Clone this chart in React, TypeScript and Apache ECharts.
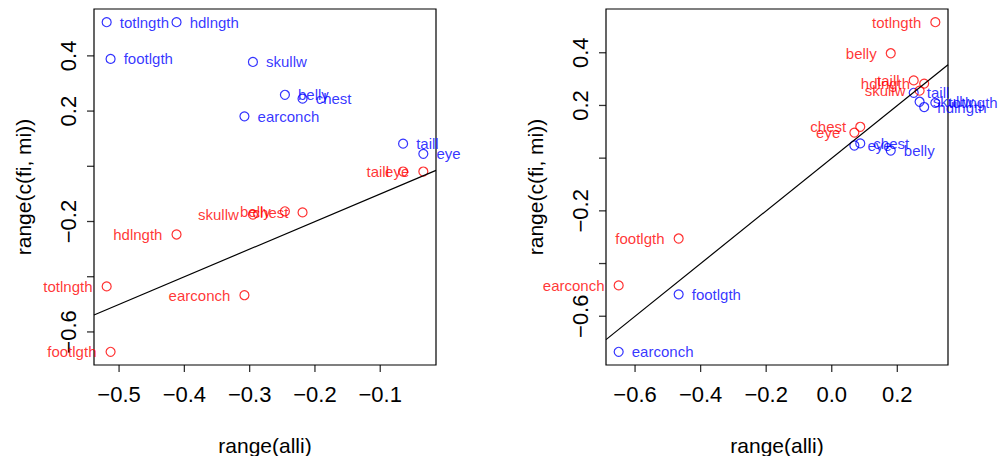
import React, { useEffect, useRef } from "react";
import * as echarts from "echarts";

const variables = ["totlngth", "hdlngth", "footlgth", "skullw", "belly", "chest", "earconch", "taill", "eye"];

// left panel
const alliLeft = [-0.519, -0.412, -0.513, -0.295, -0.246, -0.219, -0.308, -0.065, -0.034];
const blueLeft = [0.522, 0.522, 0.389, 0.378, 0.259, 0.245, 0.181, 0.082, 0.045];
const redLeft = [-0.435, -0.247, -0.672, -0.175, -0.163, -0.167, -0.467, -0.019, -0.019];

// right panel
const alliRight = [0.316, 0.282, -0.467, 0.268, 0.18, 0.087, -0.65, 0.25, 0.069];
const blueRight = [0.21, 0.194, -0.517, 0.214, 0.029, 0.056, -0.735, 0.248, 0.048];
const redRight = [0.516, 0.283, -0.305, 0.256, 0.398, 0.119, -0.483, 0.295, 0.097];

const xTicksLeft = [-0.5, -0.4, -0.3, -0.2, -0.1];
const xTicksRight = [-0.6, -0.4, -0.2, 0, 0.2];
const yTicks = [-0.6, -0.4, -0.2, 0, 0.2, 0.4];
const yTickLabels = [-0.6, -0.2, 0.2, 0.4];

const ablineIntercept = 0;
const ablineSlope = 1;

const xTitle = "range(alli)";
const yTitle = "range(c(fi, mi))";

const FONT = "'Liberation Sans', Arial, Helvetica, sans-serif";
const BLUE = "#0000FF";
const RED = "#FF0000";
const TICK_LEN = 7;
const TICK_W = 1.3;

function rRange(vals: number[]): [number, number] {
  const mn = Math.min(...vals);
  const mx = Math.max(...vals);
  const r = mx - mn;
  return [mn - 0.04 * r, mx + 0.04 * r];
}

function fmt(v: number): string {
  const s = (Math.abs(v) < 1e-9 ? 0 : v).toFixed(1);
  return s.replace("-", "\u2212");
}

function panel(idx: number, alli: number[], blue: number[], red: number[], xTicks: number[]) {
  const xLim = rRange(alli);
  const yLim = rRange([...blue, ...red]);
  const xAxis = {
    type: "value",
    gridIndex: idx,
    position: "bottom",
    min: xLim[0],
    max: xLim[1],
    axisLine: { show: false, onZero: false },
    splitLine: { show: false },
    axisTick: { show: false },
    axisLabel: {
      customValues: xTicks,
      formatter: (v: number) => fmt(v),
      fontSize: 22,
      fontFamily: FONT,
      color: "#000",
      margin: 18,
    },
  };
  const yAxis = {
    type: "value",
    gridIndex: idx,
    position: "left",
    min: yLim[0],
    max: yLim[1],
    axisLine: { show: false, onZero: false },
    splitLine: { show: false },
    axisTick: { show: false },
    axisLabel: {
      customValues: yTickLabels,
      formatter: (v: number) => fmt(v),
      fontSize: 22,
      fontFamily: FONT,
      color: "#000",
      rotate: 90,
      margin: 15,
    },
  };
  const mk = (ys: number[]) => variables.map((v, i) => ({ name: v, value: [alli[i], ys[i]] }));
  const series: any[] = [
    {
      type: "scatter",
      xAxisIndex: idx,
      yAxisIndex: idx,
      data: mk(blue),
      symbol: "circle",
      symbolSize: 9,
      itemStyle: { color: "rgba(0,0,0,0)", borderColor: BLUE, borderWidth: 1.2 },
      label: {
        show: true,
        position: "right",
        distance: 8,
        formatter: "{b}",
        color: BLUE,
        fontSize: 15,
        fontFamily: FONT,
      },
      z: 3,
    },
    {
      type: "scatter",
      xAxisIndex: idx,
      yAxisIndex: idx,
      data: mk(red),
      symbol: "circle",
      symbolSize: 9,
      itemStyle: { color: "rgba(0,0,0,0)", borderColor: RED, borderWidth: 1.2 },
      label: {
        show: true,
        position: "left",
        distance: 9,
        formatter: "{b}",
        color: RED,
        fontSize: 15,
        fontFamily: FONT,
      },
      z: 3,
    },
    {
      type: "line",
      xAxisIndex: idx,
      yAxisIndex: idx,
      data: xLim.map((x) => [x, ablineIntercept + ablineSlope * x]),
      symbol: "none",
      lineStyle: { color: "#000", width: 1.2 },
      clip: true,
      z: 4,
    },
    // R-style tick marks below the box, as rectangle symbols on the box edge
    {
      type: "scatter",
      xAxisIndex: idx,
      yAxisIndex: idx,
      data: xTicks.map((v) => [v, yLim[0]]),
      symbol: "rect",
      symbolSize: [TICK_W, TICK_LEN],
      symbolOffset: [0, TICK_LEN / 2],
      itemStyle: { color: "#000" },
      clip: false,
      silent: true,
      z: 6,
    },
    // tick marks left of the box
    {
      type: "scatter",
      xAxisIndex: idx,
      yAxisIndex: idx,
      data: yTicks.map((v) => [xLim[0], v]),
      symbol: "rect",
      symbolSize: [TICK_LEN, TICK_W],
      symbolOffset: [-TICK_LEN / 2, 0],
      itemStyle: { color: "#000" },
      clip: false,
      silent: true,
      z: 6,
    },
  ];
  return { xAxis, yAxis, series };
}

export default function App() {
  const ref = useRef<HTMLDivElement>(null);
  useEffect(() => {
    document.body.style.margin = "0";
    if (!ref.current) return;
    const chart = echarts.init(ref.current, null, { renderer: "svg" });
    const panels = [
      panel(0, alliLeft, blueLeft, redLeft, xTicksLeft),
      panel(1, alliRight, blueRight, redRight, xTicksRight),
    ];
    const grids = [
      { left: 94, top: 9, width: 342, height: 356 },
      { left: 606, top: 9, width: 342, height: 356 },
    ].map((g) => ({ ...g, show: true, borderColor: "#000", borderWidth: 1.2, backgroundColor: "transparent", containLabel: false }));
    const titleStyle = { font: `21px ${FONT}`, fill: "#000", textAlign: "center", textVerticalAlign: "middle", align: "center", verticalAlign: "middle" };
    const titles: any[] = [
      ...grids.map((g) => ({ type: "text", x: g.left + g.width / 2, y: 445, style: { ...titleStyle, text: xTitle } })),
      ...grids.map((g) => ({ type: "text", x: g.left - 71, y: g.top + g.height / 2, rotation: Math.PI / 2, style: { ...titleStyle, text: yTitle } })),
    ];
    chart.setOption({
      animation: false,
      backgroundColor: "#fff",
      grid: grids,
      xAxis: panels.map((p) => p.xAxis),
      yAxis: panels.map((p) => p.yAxis),
      series: panels.flatMap((p) => p.series),
      graphic: titles,
    });
    return () => chart.dispose();
  }, []);
  return <div ref={ref} style={{ width: 1006, height: 456 }} />;
}
